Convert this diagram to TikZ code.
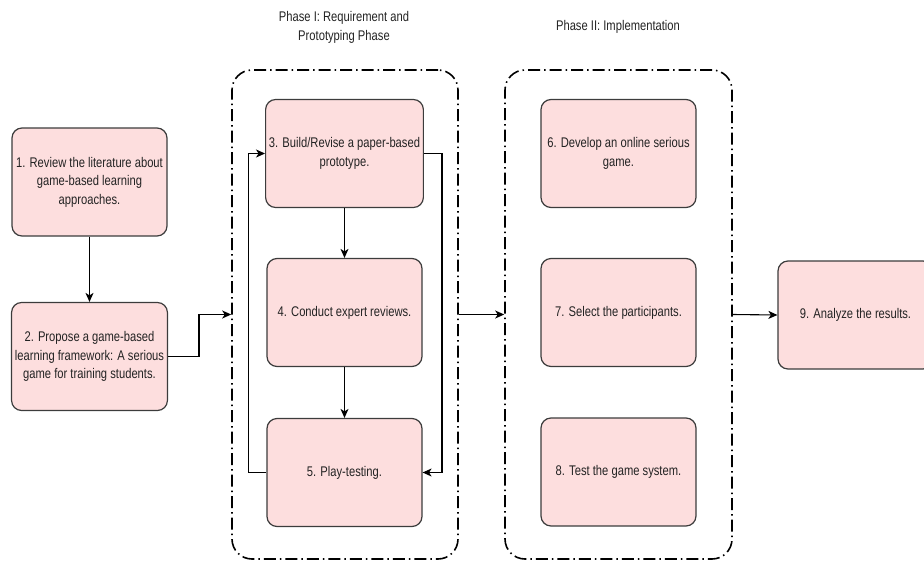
\documentclass[tikz,border=0pt]{standalone}
\usepackage{fontspec}
\setmainfont{Liberation Sans}[FakeStretch=0.8]
\usepackage{tikz}
\usetikzlibrary{arrows.meta}
\definecolor{stepfill}{RGB}{253,222,222}
\definecolor{stepline}{RGB}{60,60,60}
\definecolor{textgray}{RGB}{35,35,35}

\begin{document}
\begin{tikzpicture}[x=1pt, y=-1pt,
	stepbox/.style={draw=stepline, fill=stepfill, line width=1.2pt, rounded corners=10pt,
		minimum width=155pt, minimum height=108pt, align=center, text=textgray,
		font=\fontsize{14}{18.5}\selectfont},
	phasebox/.style={draw=black, line width=1.6pt, rounded corners=20pt,
		dash pattern=on 12pt off 4pt on 1.5pt off 4pt},
	phasetitle/.style={align=center, text=textgray, font=\fontsize{14}{19}\selectfont},
	flow/.style={draw=black, line width=1.1pt, -{Stealth[length=9pt, width=8pt, inset=2.5pt]}}]
	\useasboundingbox (0,0) rectangle (924,563);
	\clip (0,0) rectangle (924,563);
	\node[phasebox, minimum width=226pt, minimum height=489pt] (p1) at (345,314.5) {};
	\node[phasebox, minimum width=227pt, minimum height=489pt] (p2) at (618.5,314.5) {};
	\node[phasetitle] (t1) at (344,27) {Phase I: Requirement and\\ Prototyping Phase};
	\node[phasetitle] (t2) at (618,27) {Phase II: Implementation};
	\node[stepbox] (b1) at (89.5,182) {1. Review the literature about\\ game-based learning\\ approaches.};
	\node[stepbox] (b2) at (89.5,356.5) {2. Propose a game-based\\ learning framework: A serious\\ game for training students.};
	\node[stepbox] (b3) at (344.5,153.5) {3. Build/Revise a paper-based\\ prototype.};
	\node[stepbox] (b4) at (344.5,312.5) {4. Conduct expert reviews.};
	\node[stepbox] (b5) at (344.5,472.5) {5. Play-testing.};
	\node[stepbox] (b6) at (618.5,153.5) {6. Develop an online serious\\ game.};
	\node[stepbox] (b7) at (618.5,312.5) {7. Select the participants.};
	\node[stepbox] (b8) at (618.5,472) {8. Test the game system.};
	\node[stepbox] (b9) at (855.5,315) {9. Analyze the results.};
	\draw[flow] (b1) -- (b2);
	\draw[flow] (b2.east) -- ++(31,0) |- (p1.west);
	\draw[flow] (b3) -- (b4);
	\draw[flow] (b4) -- (b5);
	\draw[flow] (b5.west) -- ++(-18,0) |- (b3.west);
	\draw[flow] (b3.east) -- ++(18,0) |- (b5.east);
	\draw[flow] (p1.east) -- (p2.west);
	\draw[flow] (p2.east) -- (b9.west);
\end{tikzpicture}
\end{document}
